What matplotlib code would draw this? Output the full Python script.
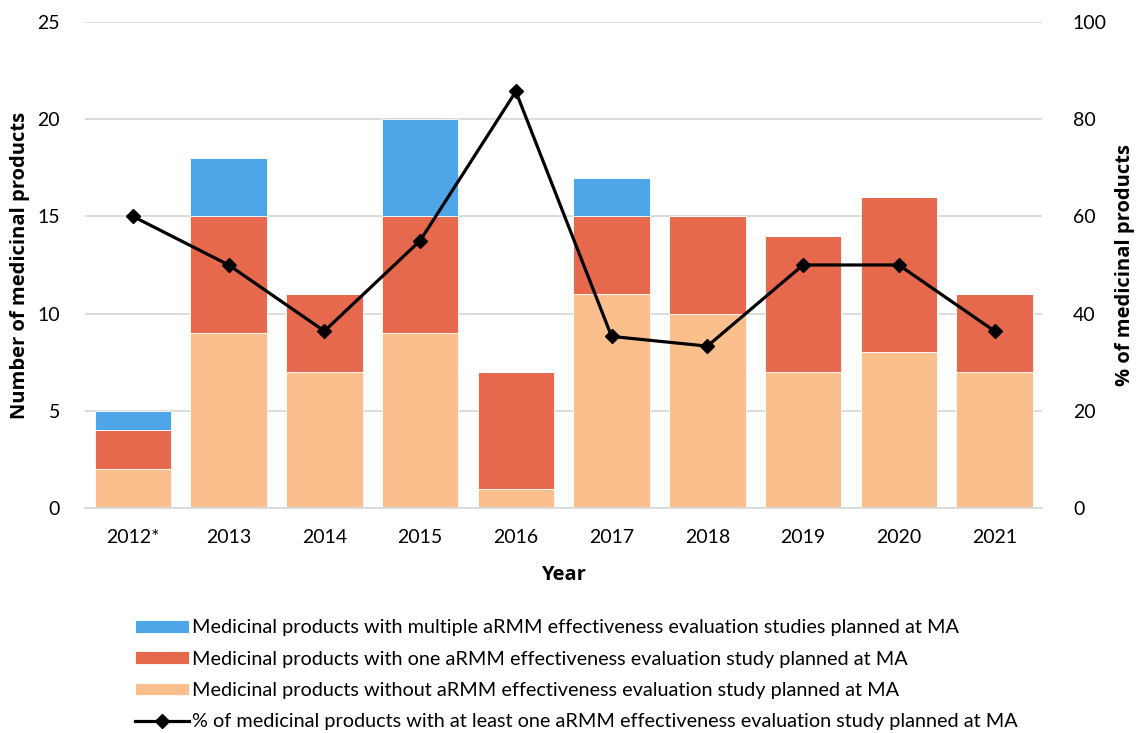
import matplotlib.pyplot as plt
import numpy as np

plt.rcParams['font.family'] = ['Lato', 'DejaVu Sans']

# --- data ---
years = ["2012*", "2013", "2014", "2015", "2016", "2017", "2018", "2019", "2020", "2021"]
without_study = [2, 9, 7, 9, 1, 11, 10, 7, 8, 7]
one_study = [2, 6, 4, 6, 6, 4, 5, 7, 8, 4]
multiple_studies = [1, 3, 0, 5, 0, 2, 0, 0, 0, 0]
pct_with_study = [60.0, 50.0, 36.4, 55.0, 85.7, 35.3, 33.3, 50.0, 50.0, 36.4]

c_multi = "#4EA5E8"
c_one = "#E6694E"
c_none = "#FBBF8E"

bold_font = dict(family=["Open Sans", "DejaVu Sans"], fontweight="bold", fontsize=14.5)

fig = plt.figure(figsize=(11.37, 7.33), dpi=100)
ax = fig.add_axes([0.0748, 0.307, 0.842, 0.663])
x = np.arange(len(years))
w = 0.8

b1 = ax.bar(x, without_study, w, color=c_none, edgecolor="white", linewidth=0.6, zorder=2,
            label="Medicinal products without aRMM effectiveness evaluation study planned at MA")
b2 = ax.bar(x, one_study, w, bottom=without_study, color=c_one, edgecolor="white", linewidth=0.6, zorder=2,
            label="Medicinal products with one aRMM effectiveness evaluation study planned at MA")
bottom2 = np.array(without_study) + np.array(one_study)
b3 = ax.bar(x, multiple_studies, w, bottom=bottom2, color=c_multi, edgecolor="white", linewidth=0.6, zorder=2,
            label="Medicinal products with multiple aRMM effectiveness evaluation studies planned at MA")

ax.set_ylim(0, 25)
ax.set_xlim(-0.5, len(years) - 0.5)
ax.set_yticks(range(0, 26, 5))
ax.set_xticks(x)
ax.set_xticklabels(years)
ax.grid(axis="y", color="#D9D9D9", linewidth=1.3, zorder=0)
ax.set_axisbelow(True)
for s in ["top", "right", "left"]:
    ax.spines[s].set_visible(False)
ax.spines["bottom"].set_color("#D9D9D9")
ax.spines["bottom"].set_linewidth(1.3)
ax.tick_params(axis="x", length=0, labelsize=14, pad=15)
ax.tick_params(axis="y", length=0, labelsize=14, pad=18)
ax.set_ylabel("Number of medicinal products", labelpad=5, **bold_font)
ax.set_xlabel("Year", labelpad=14, **bold_font)

ax2 = ax.twinx()
ln, = ax2.plot(x, pct_with_study, color="black", linewidth=2.3, marker="D", markersize=7,
               zorder=3, label="% of medicinal products with at least one aRMM effectiveness evaluation study planned at MA")
ax2.set_ylim(0, 100)
ax2.set_yticks(range(0, 101, 20))
for s in ["top", "right", "left", "bottom"]:
    ax2.spines[s].set_visible(False)
ax2.tick_params(axis="y", length=0, labelsize=14, pad=22)
ax2.set_ylabel("% of medicinal products", labelpad=6, **bold_font)

fig.legend([b3, b2, b1, ln],
           [b3.get_label(), b2.get_label(), b1.get_label(), ln.get_label()],
           loc="upper left", bbox_to_anchor=(0.1187, 0.155), frameon=False,
           fontsize=14.3, handlelength=2.7, handleheight=0.6, handletextpad=0.15,
           labelspacing=0.72, borderpad=0, borderaxespad=0)

fig.savefig("out.png", dpi=100)
